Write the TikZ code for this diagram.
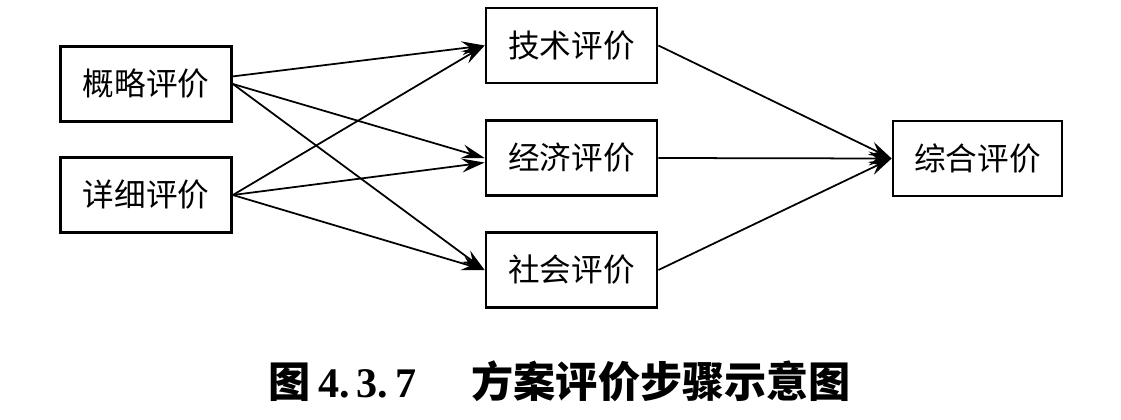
\documentclass[tikz,border=0pt]{standalone}
\usepackage{fontspec}
\setmainfont{Liberation Serif}
\newfontfamily\cjk{Noto Sans CJK SC}
\usetikzlibrary{arrows.meta}
\usetikzlibrary{calc}

\begin{document}
\begin{tikzpicture}[x=0.02cm,y=-0.02cm]
  \tikzstyle{box}=[draw,line width=1.6pt,inner sep=0pt,minimum width=3.42cm,minimum height=1.5cm,font=\cjk\fontsize{18}{20}\selectfont]
  \tikzstyle{flow}=[line width=1pt,-{Stealth[length=4.6mm,width=2.8mm,inset=1.6mm]}]
  \useasboundingbox (0,0) rectangle (1121,419);
  % left column
  \node[box] (gl) at (146,84) {概略评价};
  \node[box] (xx) at (146,195) {详细评价};
  % middle column
  \node[box] (js) at (571.5,45.5) {技术评价};
  \node[box] (jj) at (571.5,158) {经济评价};
  \node[box] (sh) at (571.5,270) {社会评价};
  % right
  \node[box,minimum width=3.38cm] (zh) at (977.5,158.5) {综合评价};
  \foreach \from/\to in {gl.5/js.west, gl.east/jj.west, gl.east/sh.west, xx.east/js.west, xx.east/jj.183, xx.east/sh.west}
    \draw[flow] (\from) -- (\to);
  \foreach \from in {js, jj, sh}
    \draw[flow] (\from.east) -- (zh.west);
  \node (cap) at (560,381) {\fontsize{24}{26}\selectfont\bfseries{\cjk 图}\,4.\,3.\,7\hspace{1.1cm}{\cjk 方案评价步骤示意图}};
\end{tikzpicture}
\end{document}
